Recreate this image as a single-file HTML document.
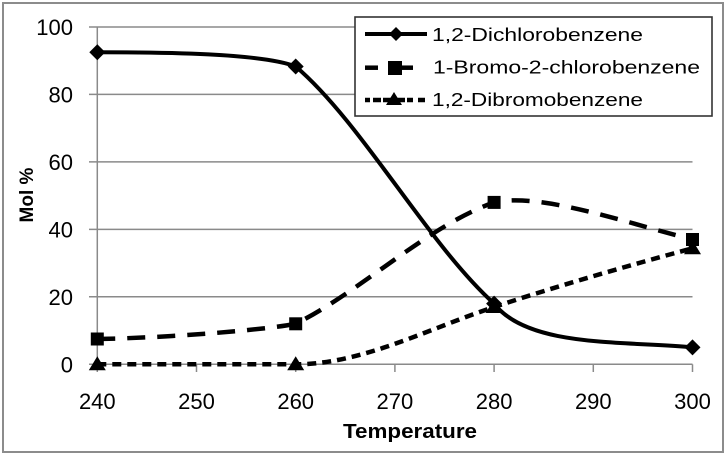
<!DOCTYPE html>
<html>
<head>
<meta charset="utf-8">
<style>
  html, body { margin: 0; padding: 0; background: #fff; }
  body { width: 728px; height: 458px; overflow: hidden; }
  svg { display: block; }
  text { font-family: "Liberation Sans", sans-serif; fill: #000; }
</style>
</head>
<body>
<svg width="728" height="458" viewBox="0 0 728 458" xmlns="http://www.w3.org/2000/svg">
  <rect x="0" y="0" width="728" height="458" fill="#fff"/>
  <!-- outer frame -->
  <rect x="3" y="3" width="720" height="449" fill="none" stroke="#8c8c8c" stroke-width="2"/>

  <!-- gridlines -->
  <g stroke="#8a8a8a" stroke-width="1.5" fill="none">
    <line x1="89" y1="27" x2="692.5" y2="27"/>
    <line x1="89" y1="94.4" x2="692.5" y2="94.4"/>
    <line x1="89" y1="161.9" x2="692.5" y2="161.9"/>
    <line x1="89" y1="229.4" x2="692.5" y2="229.4"/>
    <line x1="89" y1="296.8" x2="692.5" y2="296.8"/>
    <line x1="89" y1="364.3" x2="692.5" y2="364.3"/>
    <!-- y axis -->
    <line x1="97.3" y1="27" x2="97.3" y2="364.3"/>
    <!-- x ticks -->
    <line x1="97.3" y1="364.3" x2="97.3" y2="372"/>
    <line x1="196.5" y1="364.3" x2="196.5" y2="372"/>
    <line x1="295.7" y1="364.3" x2="295.7" y2="372"/>
    <line x1="394.9" y1="364.3" x2="394.9" y2="372"/>
    <line x1="494.1" y1="364.3" x2="494.1" y2="372"/>
    <line x1="593.3" y1="364.3" x2="593.3" y2="372"/>
    <line x1="692.5" y1="364.3" x2="692.5" y2="372"/>
  </g>

  <!-- y tick labels -->
  <g font-size="22" text-anchor="end">
    <text x="73" y="35">100</text>
    <text x="73" y="102.4">80</text>
    <text x="73" y="169.9">60</text>
    <text x="73" y="237.4">40</text>
    <text x="73" y="304.8">20</text>
    <text x="73" y="372.3">0</text>
  </g>
  <!-- x tick labels -->
  <g font-size="22" text-anchor="middle">
    <text x="97.3" y="409">240</text>
    <text x="196.5" y="409">250</text>
    <text x="295.7" y="409">260</text>
    <text x="394.9" y="409">270</text>
    <text x="494.1" y="409">280</text>
    <text x="593.3" y="409">290</text>
    <text x="692.5" y="409">300</text>
  </g>

  <!-- axis titles -->
  <text x="343" y="438" font-size="20" font-weight="bold" textLength="134" lengthAdjust="spacingAndGlyphs">Temperature</text>
  <text transform="translate(33,195) rotate(-90)" x="0" y="0" font-size="19" font-weight="bold" text-anchor="middle">Mol %</text>

  <!-- series: 1,2-Dichlorobenzene -->
  <path d="M97.3,52.3 C163,52.3 262,53.2 295.7,66.5 C362,123 428,244 494.1,303.6 C528,348 626,340.8 692.5,347.4"
        fill="none" stroke="#000" stroke-width="4" stroke-linejoin="round"/>
  <g fill="#000">
    <polygon points="97.3,44.3 105.3,52.3 97.3,60.3 89.3,52.3"/>
    <polygon points="295.7,58.5 303.7,66.5 295.7,74.5 287.7,66.5"/>
    <polygon points="494.1,295.6 502.1,303.6 494.1,311.6 486.1,303.6"/>
    <polygon points="692.5,339.4 700.5,347.4 692.5,355.4 684.5,347.4"/>
  </g>

  <!-- series: 1-Bromo-2-chlorobenzene -->
  <path d="M97.3,339 C163,338 262,330.4 295.7,323.8 C361.7,290.8 428.1,225.5 494.1,202.4 C540,192 626.5,223 692.5,239.5"
        fill="none" stroke="#000" stroke-width="4.5" stroke-dasharray="18 12"/>
  <g fill="#000">
    <rect x="90.8" y="332.5" width="13" height="13"/>
    <rect x="289.2" y="317.3" width="13" height="13"/>
    <rect x="487.6" y="195.9" width="13" height="13"/>
    <rect x="686" y="233" width="13" height="13"/>
  </g>

  <!-- series: 1,2-Dibromobenzene -->
  <path d="M97.3,364.3 L295.7,364.3 C362,364.3 428,328.8 494.1,307 C560,285.2 626.5,266.1 692.5,248.3"
        fill="none" stroke="#000" stroke-width="4.5" stroke-dasharray="9 6"/>
  <g fill="#000">
    <polygon points="97.3,356.3 105.8,370.3 88.8,370.3"/>
    <polygon points="295.7,356.3 304.2,370.3 287.2,370.3"/>
    <polygon points="494.1,299 502.6,313 485.6,313"/>
    <polygon points="692.5,240.3 701,254.3 684,254.3"/>
  </g>

  <!-- legend -->
  <rect x="355" y="17" width="357" height="99" fill="#fff" stroke="#333" stroke-width="1.6"/>
  <!-- row 1 -->
  <line x1="365" y1="34" x2="427" y2="34" stroke="#000" stroke-width="4"/>
  <polygon points="396,27 403,34 396,41 389,34" fill="#000"/>
  <text x="432" y="41" font-size="18" textLength="211" lengthAdjust="spacingAndGlyphs">1,2-Dichlorobenzene</text>
  <!-- row 2 -->
  <line x1="365" y1="67.7" x2="378" y2="67.7" stroke="#000" stroke-width="4.5"/>
  <line x1="400" y1="67.7" x2="413" y2="67.7" stroke="#000" stroke-width="4.5"/>
  <rect x="388" y="61" width="14" height="14" fill="#000"/>
  <text x="433" y="73.5" font-size="18" textLength="267" lengthAdjust="spacingAndGlyphs">1-Bromo-2-chlorobenzene</text>
  <!-- row 3 -->
  <g stroke="#000" stroke-width="4.5">
    <line x1="365" y1="100" x2="370" y2="100"/>
    <line x1="373" y1="100" x2="381" y2="100"/>
    <line x1="383" y1="100" x2="405" y2="100"/>
    <line x1="407" y1="100" x2="413" y2="100"/>
    <line x1="418" y1="100" x2="425" y2="100"/>
  </g>
  <polygon points="394,92 402,105 386,105" fill="#000"/>
  <text x="432" y="106" font-size="18" textLength="211" lengthAdjust="spacingAndGlyphs">1,2-Dibromobenzene</text>
</svg>
</body>
</html>
